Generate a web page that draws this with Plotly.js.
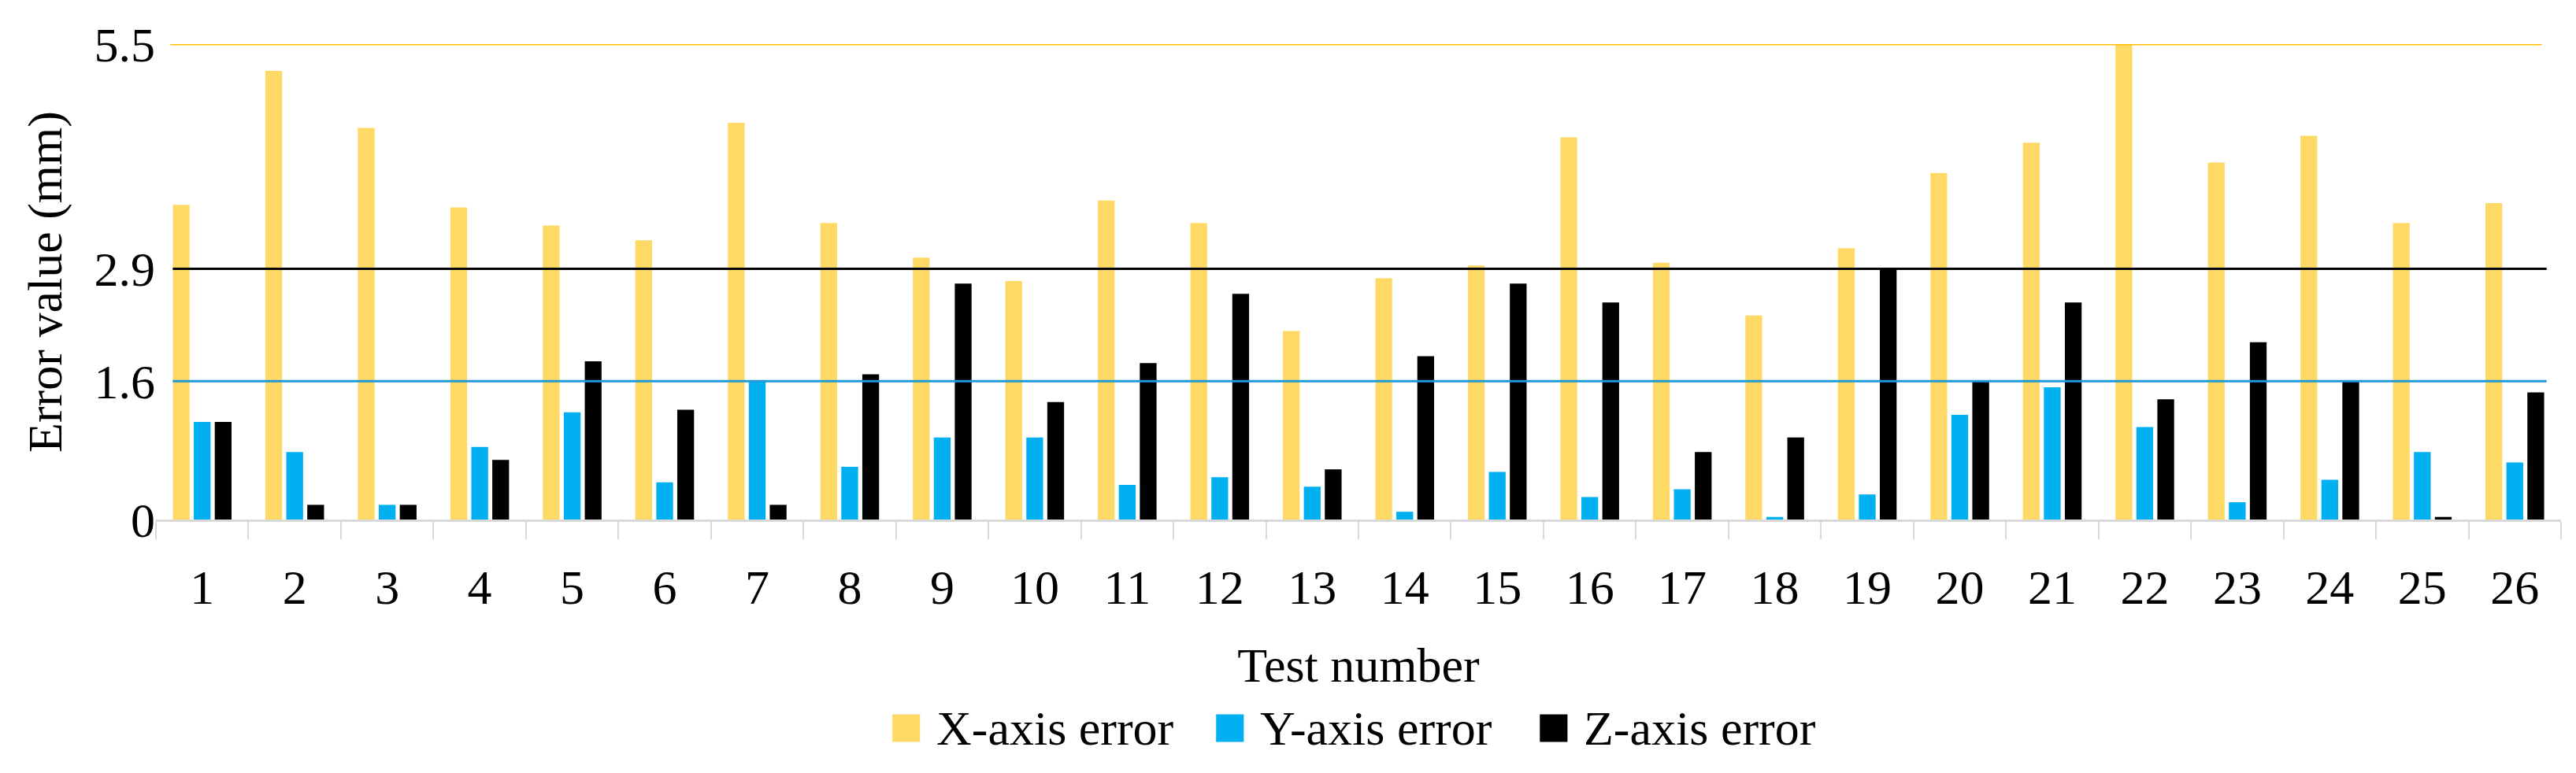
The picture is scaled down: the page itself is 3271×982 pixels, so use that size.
<!DOCTYPE html>
<html>
<head>
<meta charset="utf-8">
<script src="https://cdn.plot.ly/plotly-3.0.1.min.js"></script>
<style>html,body{margin:0;padding:0;background:#fff;}#chart{width:3271px;height:982px;}</style>
</head>
<body>
<div id="chart"></div>
<script>
// ---- data ----
const tests = ['1','2','3','4','5','6','7','8','9','10','11','12','13','14','15','16','17','18','19','20','21','22','23','24','25','26'];
const xAxisError = [3.64,5.19,4.53,3.61,3.40,3.23,4.59,3.43,3.03,2.76,3.69,3.43,2.18,2.79,2.94,4.42,2.97,2.36,3.14,4.01,4.36,5.5,4.13,4.44,3.43,3.66];
const yAxisError = [1.13,0.78,0.17,0.84,1.24,0.43,1.6,0.61,0.95,0.95,0.40,0.49,0.38,0.09,0.55,0.26,0.35,0.03,0.29,1.21,1.53,1.07,0.20,0.46,0.78,0.66];
const zAxisError = [1.13,0.17,0.17,0.69,1.83,1.27,0.17,1.68,2.73,1.36,1.81,2.61,0.58,1.89,2.73,2.51,0.78,0.95,2.9,1.6,2.51,1.39,2.05,1.6,0.03,1.47];
const seriesNames = ['X-axis error','Y-axis error','Z-axis error'];
const maxLines = [5.5, 2.9, 1.6];          // max X, max Z, max Y
const yTickVals = [0, 1.6, 2.9, 5.5];
const yTickText = ['0','1.6','2.9','5.5'];

const FONT = 'Liberation Serif, Times New Roman, serif';
const barColors = ['#FFD966','#00B0F0','#000000'];
const lineColors = ['#FFC000','#000000','#1F9AD6'];

const traces = [xAxisError, yAxisError, zAxisError].map((vals, i) => ({
  type: 'bar', x: tests, y: vals, name: seriesNames[i],
  marker: {color: barColors[i], line: {width: 0}},
  showlegend: false,
  hoverinfo: 'x+y+name'
}));

const lineExtents = [[0.006, 0.992], [0.007, 0.994], [0.007, 0.994]];
const shapes = maxLines.map((v, i) => ({
  type: 'line', xref: 'paper', yref: 'y',
  x0: lineExtents[i][0], x1: lineExtents[i][1], y0: v, y1: v,
  line: {color: lineColors[i], width: 3}, layer: 'above'
}));

// custom legend (large square swatches like the original)
const legStart = 0.3062, legStep = 0.1346, swW = 0.0115, legY = -0.4387, swH = 0.058;
const annotations = [];
seriesNames.forEach((nm, i) => {
  const x0 = legStart + i * legStep;
  shapes.push({type: 'rect', xref: 'paper', yref: 'paper', x0: x0, x1: x0 + swW,
    y0: legY - swH / 2, y1: legY + swH / 2, fillcolor: barColors[i], line: {width: 0}});
  annotations.push({xref: 'paper', yref: 'paper', x: x0 + swW + 0.0062, y: legY,
    xanchor: 'left', yanchor: 'middle', showarrow: false, text: nm,
    font: {family: FONT, size: 62, color: '#000'}});
});

const layout = {
  width: 3271, height: 982,
  margin: {l: 198, r: 19, t: 56, b: 322},
  paper_bgcolor: '#ffffff', plot_bgcolor: '#ffffff',
  font: {family: FONT, size: 62, color: '#000000'},
  barmode: 'group', bargap: 0.32, bargroupgap: 0.2,
  showlegend: false,
  xaxis: {
    type: 'category', automargin: false,
    tickson: 'boundaries', ticks: 'outside', ticklen: 22, tickwidth: 2, tickcolor: '#d9d9d9',
    showline: true, linecolor: '#d9d9d9', linewidth: 3,
    showgrid: false, zeroline: false,
    tickfont: {family: FONT, size: 62, color: '#000'},
    ticklabelstandoff: 30,
    title: {text: 'Test number', font: {family: FONT, size: 62, color: '#000'}, standoff: 44}
  },
  yaxis: {
    range: [0, 5.5], automargin: false,
    tickmode: 'array', tickvals: yTickVals, ticktext: yTickText,
    showgrid: false, zeroline: false, showline: false, ticks: '',
    tickfont: {family: FONT, size: 62, color: '#000'},
    title: {text: 'Error value (mm)', font: {family: FONT, size: 62, color: '#000'}, standoff: 20}
  },
  shapes: shapes,
  annotations: annotations
};

Plotly.newPlot('chart', traces, layout, {displayModeBar: false, staticPlot: true});
</script>
</body>
</html>
